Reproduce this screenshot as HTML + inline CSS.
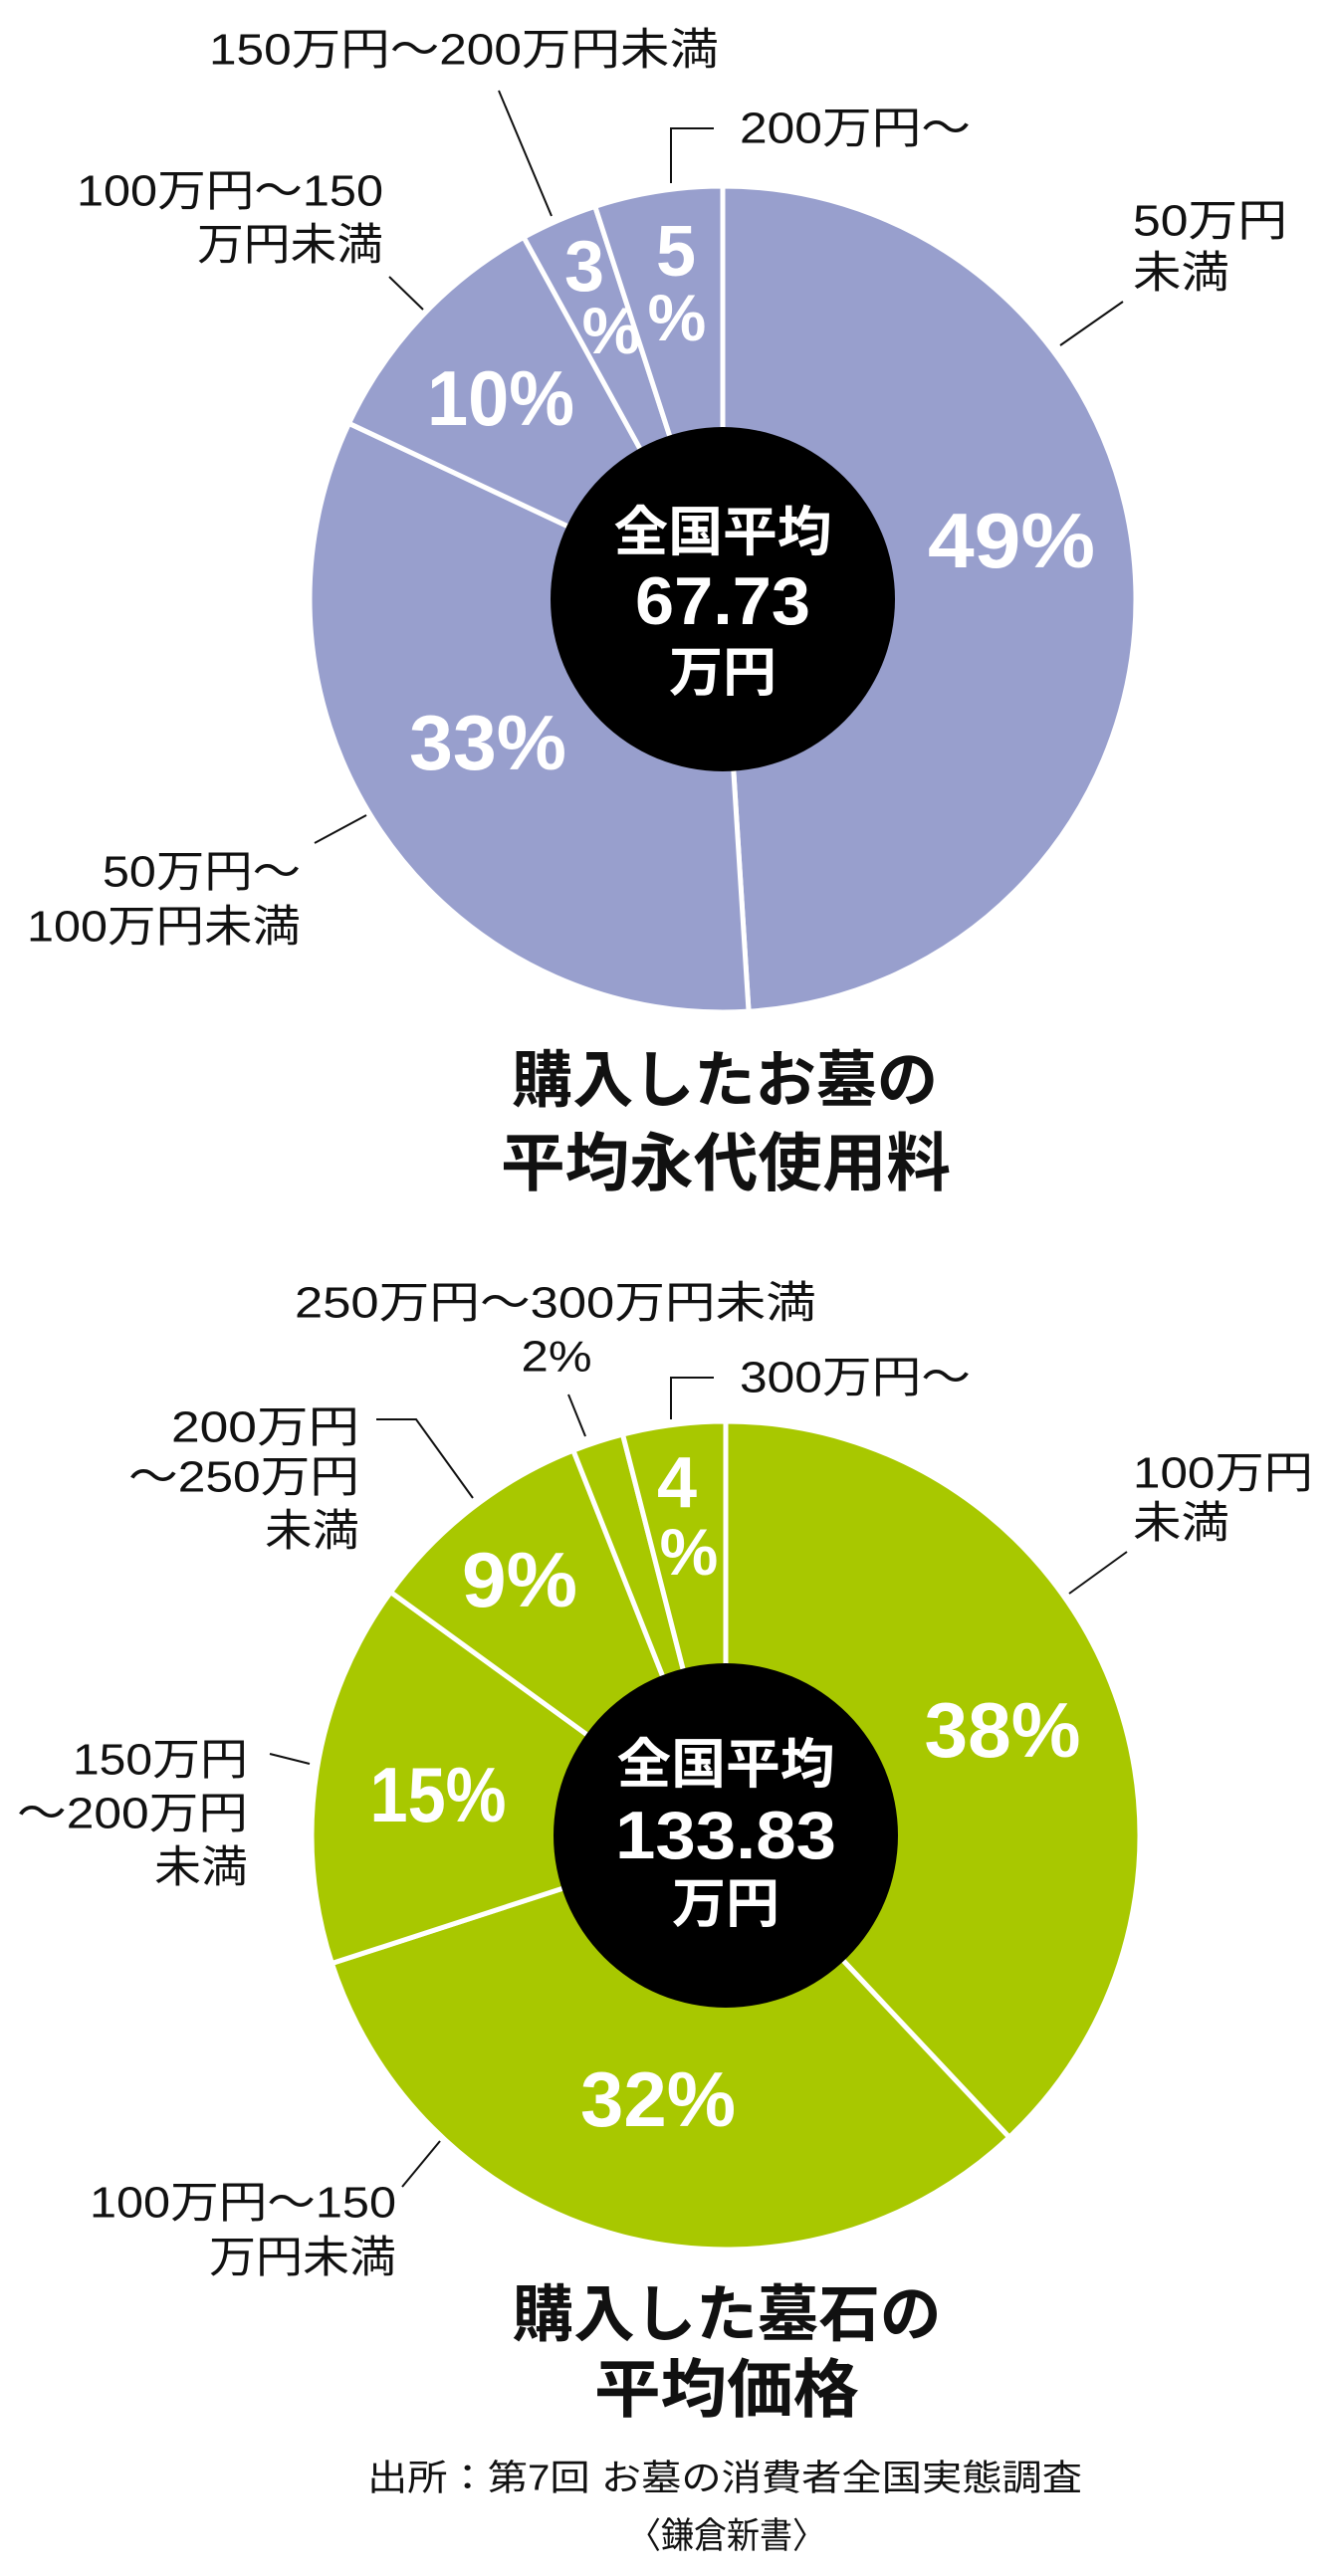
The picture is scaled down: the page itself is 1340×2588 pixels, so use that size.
<!DOCTYPE html>
<html><head><meta charset="utf-8"><style>
html,body{margin:0;padding:0;background:#fff;}
svg{display:block;}
text{font-family:"Liberation Sans","Noto Sans CJK JP",sans-serif;}
</style></head><body>
<svg id="chart" width="1340" height="2588" viewBox="0 0 1340 2588" xmlns="http://www.w3.org/2000/svg">
<g id="g1"></g>
<g id="g2"></g>
<g id="ann"></g>
</svg>
<script>
const cats1 = ["50万円未満","50万円〜100万円未満","100万円〜150万円未満","150万円〜200万円未満","200万円〜"];
const vals1 = [49,33,10,3,5];
const cats2 = ["100万円未満","100万円〜150万円未満","150万円〜200万円未満","200万円〜250万円未満","250万円〜300万円未満","300万円〜"];
const vals2 = [38,32,15,9,2,4];
const avg1 = "67.73";
const avg2 = "133.83";

const NS="http://www.w3.org/2000/svg";
function mk(tag,attrs,parent){const e=document.createElementNS(NS,tag);for(const k in attrs)e.setAttribute(k,attrs[k]);parent.appendChild(e);return e;}
function pt(cx,cy,r,f){const a=f*2*Math.PI;return [cx+r*Math.sin(a),cy-r*Math.cos(a)];}
function drawPie(g,vals,cats,cx,cy,r,ri,color){
  const tot=vals.reduce((a,b)=>a+b,0);let acc=0;
  vals.forEach((v,i)=>{
    const f0=acc/tot,f1=(acc+v)/tot;acc+=v;
    const p0=pt(cx,cy,r,f0),p1=pt(cx,cy,r,f1);
    const large=(f1-f0)>0.5?1:0;
    const p=mk('path',{d:`M${cx},${cy}L${p0[0]},${p0[1]}A${r},${r} 0 ${large} 1 ${p1[0]},${p1[1]}Z`,fill:color,stroke:'#fff','stroke-width':5,'stroke-linejoin':'round'},g);
    
    
  });
  const c=mk('circle',{cx:cx,cy:cy,r:ri,fill:'#000'},g);
  
  
}
function T(x,y,s,size,opts){
  opts=opts||{};
  const a={x:x,y:y,'font-size':size,'dominant-baseline':'central','text-anchor':opts.anchor||'start',fill:opts.fill||'#111','font-weight':opts.bold?'bold':'normal'};
  if(opts.w){a.textLength=opts.w;a.lengthAdjust='spacingAndGlyphs';}
  const t=mk('text',a,opts.g||ann);t.textContent=s;
  
  
  return t;
}
function L(pts){const p=mk('polyline',{points:pts.map(q=>q.join(',')).join(' '),fill:'none',stroke:'#111','stroke-width':2},ann);
  
  }
const ann=document.getElementById('ann');
drawPie(document.getElementById('g1'),vals1,cats1,726,602,415,173,'#989fcd');
drawPie(document.getElementById('g2'),vals2,cats2,729,1844,416,173,'#a8c800');

const W='#fff';
// chart 1 percentages
T(1016,543,vals1[0]+'%',78,{anchor:'middle',bold:1,fill:W,w:168,name:'pct-label-49'});
T(490,746,vals1[1]+'%',78,{anchor:'middle',bold:1,fill:W,w:158,name:'pct-label-33'});
T(503,400,vals1[2]+'%',78,{anchor:'middle',bold:1,fill:W,w:148,name:'pct-label-10'});
T(587,268,String(vals1[3]),72,{anchor:'middle',bold:1,fill:W,name:'pct-label-3'});
T(614,332,'%',66,{anchor:'middle',bold:1,fill:W,name:'pct-sign-3'});
T(679,253,String(vals1[4]),72,{anchor:'middle',bold:1,fill:W,name:'pct-label-5'});
T(680,319,'%',66,{anchor:'middle',bold:1,fill:W,name:'pct-sign-5'});
T(726,535,'全国平均',54,{anchor:'middle',bold:1,fill:W,w:219,name:'center-title'});
T(726,604,avg1,68,{anchor:'middle',bold:1,fill:W,w:176,name:'center-average-value'});
T(726,676,'万円',54,{anchor:'middle',bold:1,fill:W,name:'center-unit'});
// chart 1 category labels
T(210,50,'150万円〜200万円未満',44,{w:512,name:'category-label'});
L([[501,91],[554,217]]);
T(743,129,'200万円〜',44,{w:232,name:'category-label'});
L([[717,129],[674,129],[674,184]]);
T(385,192,'100万円〜150',44,{anchor:'end',w:308,name:'category-label'});
T(385,246,'万円未満',44,{anchor:'end',w:187,name:'category-label'});
L([[391,278],[425,311]]);
T(1138,222,'50万円',44,{w:155,name:'category-label'});
T(1138,274,'未満',44,{w:97,name:'category-label'});
L([[1128,303],[1065,347]]);
T(302,876,'50万円〜',44,{anchor:'end',w:199,name:'category-label'});
T(302,931,'100万円未満',44,{anchor:'end',w:275,name:'category-label'});
L([[316,847],[368,819]]);
T(728,1086,'購入したお墓の',62,{anchor:'middle',bold:1,w:428,name:'chart-title-1'});
T(729,1169,'平均永代使用料',64,{anchor:'middle',bold:1,w:452,name:'chart-title-1-line2'});

// chart 2 percentages
T(1007,1738,vals2[0]+'%',78,{anchor:'middle',bold:1,fill:W,w:157,name:'pct-label-38'});
T(661,2109,vals2[1]+'%',78,{anchor:'middle',bold:1,fill:W,w:156,name:'pct-label-32'});
T(440,1803,vals2[2]+'%',78,{anchor:'middle',bold:1,fill:W,w:137,name:'pct-label-15'});
T(522,1587,vals2[3]+'%',78,{anchor:'middle',bold:1,fill:W,w:116,name:'pct-label-9'});
T(680,1490,String(vals2[5]),72,{anchor:'middle',bold:1,fill:W,name:'pct-label-4'});
T(692,1559,'%',66,{anchor:'middle',bold:1,fill:W,name:'pct-sign-4'});
T(729,1773,'全国平均',54,{anchor:'middle',bold:1,fill:W,w:219,name:'center-title'});
T(729,1844,avg2,68,{anchor:'middle',bold:1,fill:W,w:222,name:'center-average-value'});
T(729,1913,'万円',54,{anchor:'middle',bold:1,fill:W,name:'center-unit'});
// chart 2 category labels
T(296,1309,'250万円〜300万円未満',44,{w:524,name:'category-label'});
T(559,1363,vals2[4]+'%',44,{anchor:'middle',w:71,name:'small-pct-label-2'});
L([[571,1401],[588,1443]]);
T(743,1384,'300万円〜',44,{w:232,name:'category-label'});
L([[717,1384],[674,1384],[674,1426]]);
T(361,1434,'200万円',44,{anchor:'end',w:189,name:'category-label'});
T(361,1484,'〜250万円',44,{anchor:'end',w:232,name:'category-label'});
T(361,1538,'未満',44,{anchor:'end',w:95,name:'category-label'});
L([[378,1426],[418,1426],[475,1505]]);
T(1138,1480,'100万円',44,{w:181,name:'category-label'});
T(1138,1530,'未満',44,{w:97,name:'category-label'});
L([[1132,1559],[1074,1601]]);
T(249,1768,'150万円',44,{anchor:'end',w:176,name:'category-label'});
T(249,1822,'〜200万円',44,{anchor:'end',w:232,name:'category-label'});
T(249,1876,'未満',44,{anchor:'end',w:94,name:'category-label'});
L([[271,1762],[311,1772]]);
T(398,2213,'100万円〜150',44,{anchor:'end',w:308,name:'category-label'});
T(398,2268,'万円未満',44,{anchor:'end',w:188,name:'category-label'});
L([[404,2197],[442,2151]]);
T(730,2326,'購入した墓石の',62,{anchor:'middle',bold:1,w:431,name:'chart-title-2'});
T(730,2401,'平均価格',64,{anchor:'middle',bold:1,w:266,name:'chart-title-2-line2'});
T(728,2489,'出所：第7回 お墓の消費者全国実態調査',36,{anchor:'middle',w:718,name:'source-note'});
T(730,2547,'〈鎌倉新書〉',36,{anchor:'middle',w:198,name:'source-publisher'});
</script>
</body></html>
